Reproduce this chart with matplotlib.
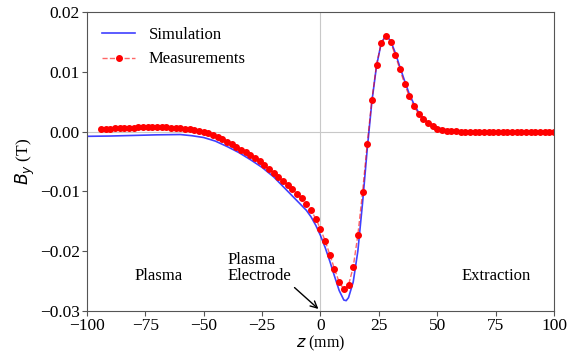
import numpy as np
import matplotlib
matplotlib.use('Agg')
import matplotlib.pyplot as plt
from matplotlib.ticker import FuncFormatter

# Measured field (every 2 mm)
meas_z = list(range(-94, 101, 2))
meas_B = [0.0004, 0.00045, 0.0005, 0.00055, 0.0006, 0.0006, 0.00065, 0.00065, 0.0007, 0.0007,
          0.0007, 0.0007, 0.0007, 0.0007, 0.00068, 0.00065, 0.0006, 0.00055, 0.00048, 0.0004,
          0.0003, 0.00015, 0.0, -0.0003, -0.0006, -0.0009, -0.0013, -0.0017, -0.0021, -0.0026,
          -0.0031, -0.0035, -0.0040, -0.0045, -0.0050, -0.0056, -0.0063, -0.0069, -0.0076, -0.0083,
          -0.0089, -0.0096, -0.0104, -0.0112, -0.0121, -0.0132, -0.0146, -0.0163, -0.0183, -0.0206,
          -0.0230, -0.0252, -0.0264, -0.0257, -0.0227, -0.0173, -0.0102, -0.0021, 0.0053, 0.0112,
          0.0148, 0.0160, 0.0150, 0.0128, 0.0104, 0.0080, 0.0059, 0.0042, 0.0030, 0.0021,
          0.0014, 0.0009, 0.0005, 0.0003, 0.00015, 0.00008, 0.00003, 0.0, -0.00003, -0.00005,
          -0.00005, -0.00005, -0.00005, -0.00005, -0.00004, -0.00003, -0.00002, -0.00002, -0.00001, 0.0,
          0.0, 0.0, 0.0, 0.0, 0.0, 0.0, 0.0, 0.0]

# Simulated field
sim_z = [-100, -90, -80, -70, -60, -55, -50, -45, -40, -35, -30, -25, -20, -15, -10, -6, -4, -2,
         0, 2, 4, 6, 8, 10, 11, 12, 14, 16, 18, 20, 22, 24, 26, 28, 30, 32, 34, 36, 38, 40,
         42, 44, 46, 48, 50, 55, 60, 70, 80, 90, 100]
sim_B = [-0.0008, -0.00075, -0.00065, -0.00055, -0.0005, -0.0007, -0.0010, -0.0016, -0.0025, -0.0035,
         -0.0047, -0.0060, -0.0076, -0.0096, -0.0116, -0.0132, -0.0143, -0.0157,
         -0.0174, -0.0194, -0.0217, -0.0242, -0.0266, -0.0282, -0.0283, -0.0278, -0.0252, -0.0200,
         -0.0120, -0.0030, 0.0050, 0.0110, 0.0148, 0.0161, 0.0152, 0.0132, 0.0108, 0.0085, 0.0063,
         0.0046, 0.0032, 0.0022, 0.0015, 0.0010, 0.0006, 0.0002, 0.0, 0.0, 0.0, 0.0, 0.0]

plt.rcParams['font.family'] = ['Liberation Serif', 'DejaVu Serif']
plt.rcParams['font.size'] = 12

fig = plt.figure(figsize=(5.79, 3.54), dpi=100)
ax = fig.add_axes([0.150, 0.122, 0.807, 0.844])

ax.axhline(0, color='#c8c8c8', lw=0.8, zorder=0)
ax.axvline(0, color='#c8c8c8', lw=0.8, zorder=0)

ax.plot(sim_z, sim_B, color='blue', alpha=0.75, lw=1.2, label='Simulation')
ax.plot(meas_z, meas_B, color=(1, 0, 0, 0.6), ls='--', lw=1.0, marker='o', ms=4,
        markerfacecolor='red', markeredgecolor='red', label='Measurements')

ax.set_xlim(-100, 100)
ax.set_ylim(-0.03, 0.02)
ax.set_xticks([-100, -75, -50, -25, 0, 25, 50, 75, 100])
ax.set_yticks([-0.03, -0.02, -0.01, 0.0, 0.01, 0.02])
ax.yaxis.set_major_formatter(FuncFormatter(lambda v, p: f'{v:.2f}'.replace('-', '\u2212')))
ax.xaxis.set_major_formatter(FuncFormatter(lambda v, p: f'{v:.0f}'.replace('-', '\u2212')))
ax.tick_params(labelsize=12.5, pad=1.5, color='#555555')

for s in ax.spines.values():
    s.set_color('#555555')

ax.set_xlabel('$z$ (mm)', fontsize=11.5, va='center')
ax.xaxis.set_label_coords(0.5, -0.108)
ax.set_ylabel('$B_y$ (T)', labelpad=2, fontsize=12.5)

ax.text(-69.5, -0.0242, 'Plasma', ha='center', va='center')
ax.text(-39.7, -0.0229, 'Plasma\nElectrode', ha='left', va='center', linespacing=1.0)
ax.text(75, -0.0242, 'Extraction', ha='center', va='center')
ax.annotate('', xy=(0, -0.03), xytext=(-12, -0.0258),
            arrowprops=dict(arrowstyle='->', color='black', lw=1))

ax.legend(loc='upper left', frameon=False, fontsize=12)

fig.savefig('out.png', dpi=100)
